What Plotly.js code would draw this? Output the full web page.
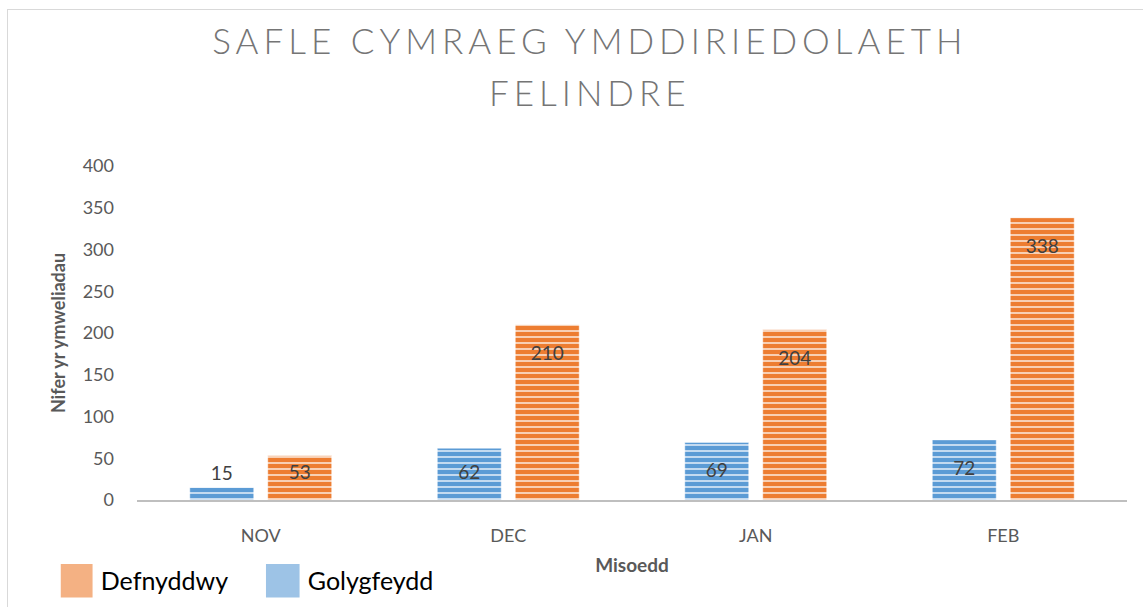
<!DOCTYPE html>
<html>
<head>
<meta charset="utf-8">
<script src="https://cdn.plot.ly/plotly-3.0.1.min.js"></script>
<style>
  html, body { margin: 0; padding: 0; background: #fff; }
  #chart { width: 1143px; height: 607px; }
  #frame { position: absolute; left: 7px; top: 9px; width: 1136px; height: 598px;
           border-left: 1.5px solid #d9d9d9; border-top: 1.5px solid #d9d9d9; pointer-events: none; }
</style>
</head>
<body>
<div id="chart"></div>
<div id="frame"></div>
<script>
// ---- data ----
const months = ["NOV", "DEC", "JAN", "FEB"];
const golygfeydd = [15, 62, 69, 72];      // views
const defnyddwy = [53, 210, 204, 338];    // users
const seriesNames = ["Golygfeydd", "Defnyddwy"];
const yTicks = [0, 50, 100, 150, 200, 250, 300, 350, 400];

const blue = "#5B9BD5", orange = "#ED7D31";
const blueLight = "#9DC3E6", orangeLight = "#F4B183";
const labelFont = { family: "Lato, 'Open Sans', sans-serif", size: 19, color: "#404040" };

function barTrace(name, vals, color) {
  return {
    type: "bar", name: name, x: months, y: vals, showlegend: false,
    marker: {
      color: color,
      line: { color: "rgba(255,255,255,0.45)", width: 1 },
      pattern: { shape: "-", size: 6, solidity: 0.3, fgcolor: "#ffffff", fgopacity: 0.7, bgcolor: color }
    },
    texttemplate: "%{y}", textposition: "auto", insidetextanchor: "end",
    constraintext: "none", textangle: 0,
    insidetextfont: labelFont, outsidetextfont: labelFont,
    hoverinfo: "x+y+name"
  };
}
function legendTrace(name, color) {
  return {
    type: "scatter", mode: "markers", name: name, x: [null], y: [null],
    marker: { symbol: "square", size: 16, color: color }, hoverinfo: "skip"
  };
}

const data = [
  barTrace(seriesNames[0], golygfeydd, blue),
  barTrace(seriesNames[1], defnyddwy, orange),
  legendTrace(seriesNames[1], orangeLight),
  legendTrace(seriesNames[0], blueLight)
];

const tickFont = { family: "Lato, 'Open Sans', sans-serif", size: 18, color: "#595959" };
const layout = {
  width: 1143, height: 607,
  paper_bgcolor: "#fff", plot_bgcolor: "#fff",
  margin: { l: 137, r: 16, t: 166, b: 107, autoexpand: false },
  font: { family: "Lato, 'Open Sans', sans-serif" },
  title: {
    text: "SAFLE CYMRAEG YMDDIRIEDOLAETH<br>FELINDRE",
    font: { family: "Lato, 'Open Sans', sans-serif", size: 35, color: "#757575", weight: 300 },
    x: 0.516, xanchor: "center", xref: "container",
    y: 0.911, yanchor: "top", yref: "container"
  },
  barmode: "group", bargap: 0.37, bargroupgap: 0.18,
  xaxis: {
    type: "category", categoryarray: months,
    showline: true, linecolor: "#BFBFBF", linewidth: 2,
    showgrid: false, zeroline: false, ticks: "",
    tickfont: tickFont, ticklabelstandoff: 18,
    title: { text: "Misoedd", font: { family: "Lato, 'Open Sans', sans-serif", size: 19, color: "#595959", weight: "bold" }, standoff: 14 },
    automargin: true, fixedrange: true
  },
  yaxis: {
    range: [0, 400], tickvals: yTicks, ticktext: yTicks.map(String),
    showline: false, showgrid: false, zeroline: false, ticks: "",
    tickfont: tickFont, ticklabelstandoff: 22,
    title: { text: "Nifer yr ymweliadau", font: { family: "Lato, 'Open Sans', sans-serif", size: 18, color: "#595959", weight: "bold" }, standoff: 12 },
    automargin: true, fixedrange: true
  },
  legend: {
    orientation: "h", x: -0.077, xanchor: "left", y: -0.2425, yanchor: "middle",
    font: { family: "Lato, 'Open Sans', sans-serif", size: 25, color: "#000" },
    entrywidth: 162, entrywidthmode: "pixels", itemclick: false, itemdoubleclick: false,
    bgcolor: "rgba(0,0,0,0)"
  },
  showlegend: true
};

Plotly.newPlot("chart", data, layout, { displayModeBar: false, staticPlot: true }).then(function (gd) {
  // make pattern fills refer to local ids (page URL may be opaque)
  gd.querySelectorAll(".bars path").forEach(function (p) {
    const f = p.style.fill || "";
    const m = f.match(/#([^"')]+)/);
    if (f.indexOf("url(") >= 0 && m) p.style.fill = "url(#" + m[1] + ")";
  });
  // push inside-end labels a little lower, like the original "inside end" labels
  gd.querySelectorAll(".bars .point").forEach(function (pt) {
    const path = pt.querySelector("path");
    const txt = pt.querySelector("text");
    if (!path || !txt) return;
    const pb = path.getBBox();
    const tb = txt.getBoundingClientRect();
    const gb = gd.getBoundingClientRect();
    const plotTop = gd._fullLayout._size.t, plotLeft = gd._fullLayout._size.l;
    const barTop = pb.y + plotTop, barBottom = pb.y + pb.height + plotTop;
    const tTop = tb.top - gb.top, tBottom = tb.bottom - gb.top;
    if (tTop < barTop) return; // outside label
    const shift = Math.min(13, Math.max(0, (barBottom - tBottom) - 17));
    if (shift > 0) {
      const tr = txt.getAttribute("transform") || "";
      txt.setAttribute("transform", "translate(0," + shift + ") " + tr);
    }
  });
  // letter spacing of title, and line spacing
  const t = gd.querySelector(".gtitle");
  if (t) {
    t.style.letterSpacing = "5px";
    const lines = t.querySelectorAll("tspan.line");
    if (lines.length > 1) lines[1].setAttribute("dy", "1.49em");
  }
  // bigger legend swatches
  gd.querySelectorAll(".legend .legendpoints path").forEach(function (p) {
    const tr = p.getAttribute("transform") || "";
    p.setAttribute("transform", "translate(-5,0) " + tr + " scale(2.1)");
  });
});
</script>
</body>
</html>
